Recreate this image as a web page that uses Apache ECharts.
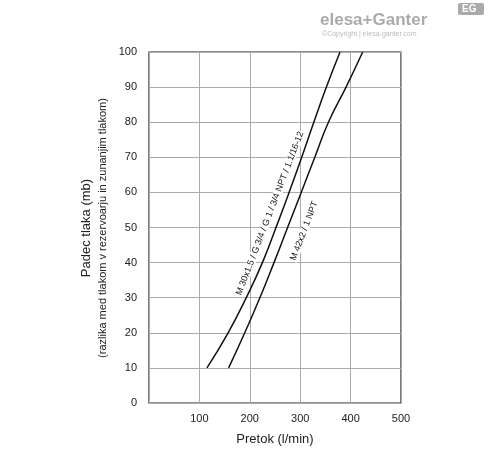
<!DOCTYPE html><html><head><meta charset="utf-8">
<script src="https://cdn.jsdelivr.net/npm/echarts@6/dist/echarts.min.js"></script>
<style>body{margin:0}#c{width:488px;height:454px}</style></head><body><div id="c"></div>
<script>
const pressure = [10,20,30,40,50,60,70,80,90,100];
const flowM30 = [115,157,193,225,252,278,303,327,352,379];
const flowM42 = [158,190,220,248,275,302,329,356,391,424];
const xTicks = [0,100,200,300,400,500];
const labelM30 = 'M 30x1.5 / G 3/4 / G 1 / 3/4 NPT / 1.1/16-12';
const labelM42 = 'M 42x2 / 1 NPT';
const ff = 'Liberation Sans, Arial, sans-serif';
const chart = echarts.init(document.getElementById('c'));
const mk = d => d.map((x,i)=>[x,pressure[i]]);
chart.setOption({
  animation:false,
  grid:{left:149,right:87,top:52,bottom:51,show:true,borderColor:'#222',borderWidth:1.2},
  xAxis:{type:'value',min:0,max:500,interval:100,name:'Pretok (l/min)',nameLocation:'middle',nameGap:30,
    nameTextStyle:{fontFamily:ff,fontSize:13,color:'#222'},
    axisLine:{show:false},axisTick:{show:false},
    axisLabel:{fontFamily:ff,fontSize:11,color:'#222',margin:10,formatter:v=>v===0?'':v},
    splitLine:{lineStyle:{color:'#aaa'}}},
  yAxis:{type:'value',min:0,max:100,interval:10,
    axisLine:{show:false},axisTick:{show:false},
    axisLabel:{fontFamily:ff,fontSize:11,color:'#222',margin:12},
    splitLine:{lineStyle:{color:'#aaa'}}},
  series:[
    {type:'line',data:mk(flowM30),smooth:0.5,symbol:'none',z:3,lineStyle:{color:'#111',width:1.5}},
    {type:'line',data:mk(flowM42),smooth:0.5,symbol:'none',z:3,lineStyle:{color:'#111',width:1.5}}
  ]
});
const rot = 69*Math.PI/180;
const p1 = chart.convertToPixel({gridIndex:0},[240,54]);
const p2 = chart.convertToPixel({gridIndex:0},[308,49]);
chart.setOption({graphic:[
  {type:'text',x:p1[0],y:p1[1],z:1,rotation:rot,style:{text:labelM30,fontFamily:ff,fontSize:9,fill:'#111',align:'center',verticalAlign:'middle',backgroundColor:'#fff',padding:[0,1]}},
  {type:'text',x:p2[0],y:p2[1],z:1,rotation:rot,style:{text:labelM42,fontFamily:ff,fontSize:9,fill:'#111',align:'center',verticalAlign:'middle',backgroundColor:'#fff',padding:[0,1]}},
  {type:'text',x:86,y:228,rotation:Math.PI/2,style:{text:'Padec tlaka (mb)',fontFamily:ff,fontSize:13,fill:'#222',align:'center',verticalAlign:'middle'}},
  {type:'text',x:103,y:228,rotation:Math.PI/2,style:{text:'(razlika med tlakom v rezervoarju in zunanjim tlakom)',fontFamily:ff,fontSize:11,fill:'#222',align:'center',verticalAlign:'middle'}},
  {type:'text',x:320,y:12,style:{text:'elesa+Ganter',fontFamily:ff,fontSize:17,fontWeight:'bold',fill:'#aaa'}},
  {type:'text',x:322,y:31,style:{text:'©Copyright | elesa-ganter.com',fontFamily:ff,fontSize:7,fill:'#bbb'}},
  {type:'rect',shape:{x:458,y:3,width:26,height:12,r:2},style:{fill:'#aaa'}},
  {type:'text',x:462,y:4,style:{text:'EG',fontFamily:ff,fontSize:10,fontWeight:'bold',fill:'#fff'}}
]});
</script></body></html>
